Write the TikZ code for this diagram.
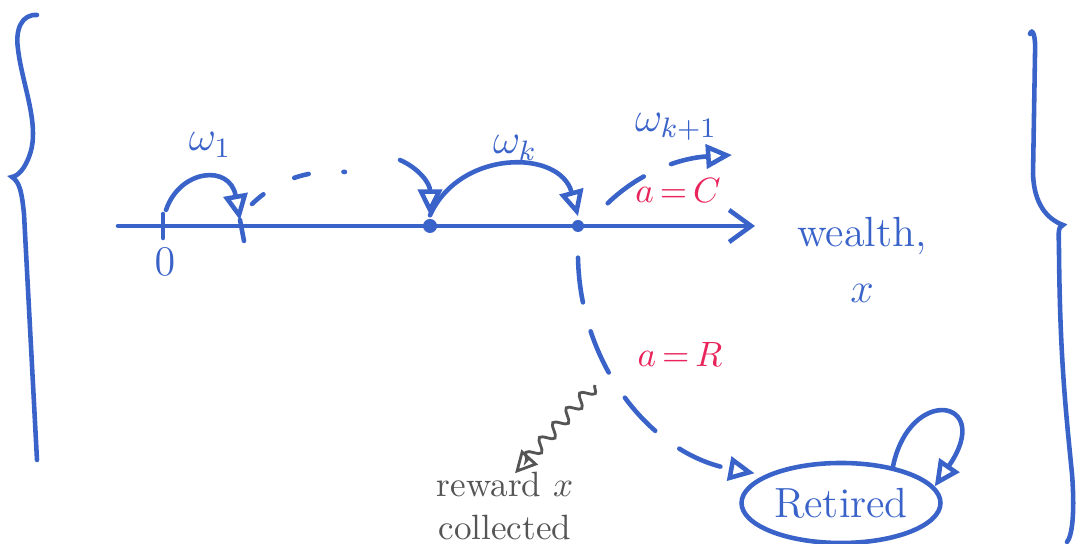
\documentclass[tikz,border=0pt]{standalone}
\definecolor{PenBlue}{HTML}{3A63C9}
\definecolor{PenRed}{HTML}{E8245A}
\definecolor{PenGray}{HTML}{555555}
\usepackage{tikz}
\usetikzlibrary{arrows.meta, positioning, decorations.pathmorphing, shapes.geometric}
\tikzset{
  pen/.style={draw=PenBlue, line width=1.3pt, line cap=round},
  penarrow/.style={pen, -{Triangle[open, length=2.6mm, width=2.4mm]}},
  dasharrow/.style={penarrow, dashed, dash pattern=on 4.5mm off 3mm},
  bluelabel/.style={text=PenBlue, font=\large},
  redlabel/.style={text=PenRed, font=\normalsize}
}

\begin{document}
\begin{tikzpicture}[
  dotnode/.style={circle, fill=PenBlue, inner sep=0pt, minimum size=1.4mm},
  ticknode/.style={inner sep=0pt, minimum size=0pt}
]
\useasboundingbox (0,0) rectangle (10.89,5.44);

% braces
\draw[pen] (0.37,5.29) .. controls (0.22,5.30) and (0.15,5.15) .. (0.18,4.95)
  .. controls (0.22,4.60) and (0.40,4.20) .. (0.30,3.90)
  .. controls (0.25,3.75) and (0.18,3.68) .. (0.12,3.67)
  .. controls (0.20,3.62) and (0.22,3.50) .. (0.24,3.30)
  -- (0.37,0.84);
\draw[pen] (10.30,5.10) .. controls (10.32,5.16) and (10.36,5.10) .. (10.35,4.90)
  -- (10.33,3.70)
  .. controls (10.34,3.40) and (10.47,3.25) .. (10.63,3.19)
  .. controls (10.57,3.17) and (10.59,3.10) .. (10.59,2.90)
  .. controls (10.60,1.90) and (10.65,1.40) .. (10.72,0.70)
  .. controls (10.75,0.30) and (10.72,0.08) .. (10.67,0.02);

% axis
\coordinate (axstart) at (1.18,3.18);
\coordinate (axend) at (7.55,3.18);
\draw[pen, -{Straight Barb[length=2.2mm, width=3.2mm]}] (axstart) -- (axend);

\node[ticknode] (zero) at (1.63,3.18) {};
\node[ticknode] (step1) at (2.40,3.18) {};
\node[dotnode] (stepk) at (4.30,3.18) {};
\node[dotnode, minimum size=1.2mm] (stepk1) at (5.78,3.18) {};
\draw[pen] ([yshift=1.2mm]zero.center) -- ([yshift=-1.2mm]zero.center);
\draw[pen] ([yshift=0.6mm]step1.center) -- ([xshift=0.4mm, yshift=-1.5mm]step1.center);

\node[bluelabel] (zerolabel) at (1.65,2.82) {$0$};
\node[bluelabel] (w1) at (2.10,3.99) {$\omega_1$};
\node[bluelabel] (wk) at (5.15,3.96) {$\omega_k$};
\node[bluelabel] (wk1) at (6.76,4.17) {$\omega_{k+1}$};
\node[redlabel] (actc) at (6.78,3.53) {$a\,{=}\,C$};
\node[bluelabel, align=center] (wealth) at (8.62,2.84) {wealth,\\[2pt] $x$};

% jumps
\coordinate (w1start) at (1.66,3.34);
\draw[penarrow] (w1start) .. controls (1.80,3.75) and (2.30,3.80) .. ([yshift=0.5mm]step1.north);
\coordinate (dotsstart) at (2.52,3.40);
\coordinate (dotsend) at (3.45,3.72);
\draw[pen, dashed, dash pattern=on 1.5mm off 3.5mm] (dotsstart) .. controls (2.75,3.62) and (3.05,3.75) .. (dotsend);
\coordinate (inflow) at (4.00,3.84);
\draw[penarrow] (inflow) .. controls (4.20,3.75) and (4.30,3.60) .. ([yshift=0.3mm]stepk.north);
\draw[penarrow] ([yshift=0.3mm]stepk.north) .. controls (4.60,3.95) and (5.60,3.95) .. ([yshift=0.3mm]stepk1.north);
\coordinate (cont) at (7.32,3.89);
\draw[dasharrow] ([xshift=2.5mm, yshift=1.8mm]stepk1.north east) .. controls (6.40,3.72) and (6.80,3.86) .. (cont);

% retirement
\node[draw=PenBlue, line width=1.3pt, ellipse, minimum width=1.55cm, minimum height=0.8cm, inner sep=1pt, text=PenBlue, font=\large] (retired) at (8.41,0.41) {Retired};
\draw[dasharrow, shorten >=1mm] ([yshift=-2.5mm]stepk1.south) .. controls (5.80,1.80) and (6.50,0.90) .. (retired.160);
\draw[penarrow] (retired.35) .. controls (9.10,1.60) and (9.95,1.45) .. (retired.10);
\node[redlabel] (actr) at (6.80,1.89) {$a\,{=}\,R$};

% reward
\node[text=PenGray, align=center, font=\normalsize, inner sep=1pt] (reward) at (5.05,0.38) {reward $x$\\collected};
\coordinate (wavestart) at (5.95,1.59);
\draw[PenGray, line width=0.8pt, decorate, decoration={snake, amplitude=0.6mm, segment length=2mm, post length=1.5mm},
  -{Triangle[open, length=2.2mm, width=2.2mm]}] (wavestart) -- ([xshift=1.0mm, yshift=-0.5mm]reward.north);
\end{tikzpicture}
\end{document}
